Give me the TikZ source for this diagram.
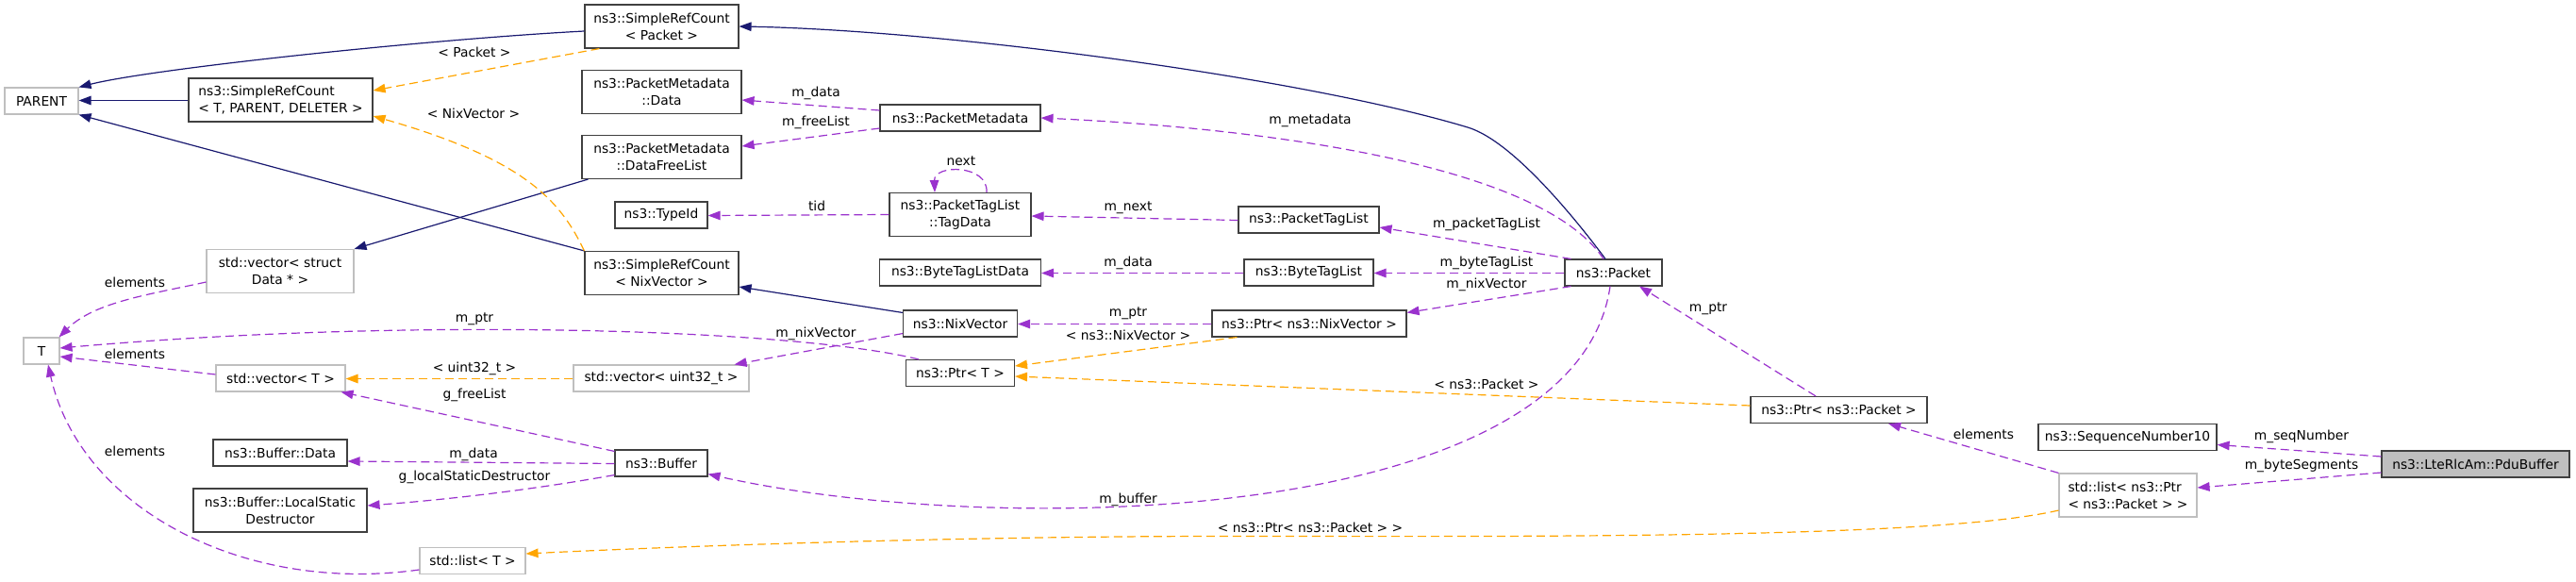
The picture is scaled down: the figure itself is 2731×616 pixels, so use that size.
\documentclass[tikz,border=0pt]{standalone}
\usepackage{fontspec}
\setmainfont{DejaVu Sans}
\usetikzlibrary{arrows.meta}
\definecolor{inhblue}{HTML}{191970}
\definecolor{usepurple}{HTML}{9A32CD}
\definecolor{tmplorange}{HTML}{FFA500}
\definecolor{extgray}{HTML}{BFBFBF}

\begin{document}
\begin{tikzpicture}[x=1pt,y=-1pt,
font=\fontsize{13.8}{18}\selectfont,
>={Triangle[length=13pt,width=9.5pt]},
cls/.style={draw=black!75,line width=1.1pt,fill=white,inner sep=0pt,
  minimum height=28pt,align=center},
ext/.style={cls,draw=extgray},
focus/.style={cls,fill=extgray},
inh/.style={->,draw=inhblue,line width=1.2pt},
use/.style={->,draw=usepurple,line width=1.2pt,dash pattern=on 9pt off 5pt},
tmpl/.style={use,draw=tmplorange},
lbl/.style={inner sep=0pt}]
\useasboundingbox (0,0) rectangle (2731,616);

\node[ext,minimum width=78pt] (parent) at (44,107) {PARENT};
\node[cls,minimum width=195pt,minimum height=46pt,align=left] (srcTPD) at (297.5,106) {ns3::SimpleRefCount\\< T, PARENT, DELETER >};
\node[cls,minimum width=163pt,minimum height=46pt] (srcPkt) at (701.5,28) {ns3::SimpleRefCount\\< Packet >};
\node[cls,minimum width=169pt,minimum height=46pt] (pmData) at (701.5,97.5) {ns3::PacketMetadata\\::Data};
\node[cls,minimum width=169pt,minimum height=46pt] (pmFree) at (701.5,166.5) {ns3::PacketMetadata\\::DataFreeList};
\node[cls,minimum width=98pt] (typeId) at (701,228) {ns3::TypeId};
\node[cls,minimum width=163pt,minimum height=46pt] (srcNix) at (701.5,289.5) {ns3::SimpleRefCount\\< NixVector >};
\node[ext,minimum width=156pt,minimum height=46pt] (vecData) at (297,287.5) {std::vector< struct\\Data * >};
\node[ext,minimum width=38pt] (tnode) at (44,372) {T};
\node[ext,minimum width=137pt] (vecT) at (297.5,401) {std::vector< T >};
\node[cls,minimum width=142pt] (bufData) at (297,480) {ns3::Buffer::Data};
\node[cls,minimum width=184pt,minimum height=46pt] (bufLSD) at (297,541) {ns3::Buffer::LocalStatic\\Destructor};
\node[ext,minimum width=112pt] (listT) at (501,594.5) {std::list< T >};
\node[ext,minimum width=186pt] (vecU32) at (701,401) {std::vector< uint32\_t >};
\node[cls,minimum width=98pt] (buffer) at (701,491) {ns3::Buffer};
\node[cls,minimum width=170pt] (pm) at (1018,125) {ns3::PacketMetadata};
\node[cls,minimum width=150pt,minimum height=46pt] (tagData) at (1018,227.5) {ns3::PacketTagList\\::TagData};
\node[cls,minimum width=171pt] (btlData) at (1018,289) {ns3::ByteTagListData};
\node[cls,minimum width=121pt] (nixVec) at (1018,343) {ns3::NixVector};
\node[cls,minimum width=115pt] (ptrT) at (1018,395.5) {ns3::Ptr< T >};
\node[cls,minimum width=149pt] (ptl) at (1387.5,233) {ns3::PacketTagList};
\node[cls,minimum width=137pt] (btl) at (1387.5,289) {ns3::ByteTagList};
\node[cls,minimum width=206pt] (ptrNix) at (1388,343) {ns3::Ptr< ns3::NixVector >};
\node[cls,minimum width=103pt] (packet) at (1710.5,289) {ns3::Packet};
\node[cls,minimum width=187pt] (ptrPkt) at (1949.5,434.5) {ns3::Ptr< ns3::Packet >};
\node[cls,minimum width=189pt] (seqNum) at (2255.5,463.5) {ns3::SequenceNumber10};
\node[ext,minimum width=146pt,minimum height=46pt,align=left] (listPtr) at (2256,525) {std::list< ns3::Ptr\\< ns3::Packet > >};
\node[focus,minimum width=199pt] (pdu) at (2624.5,492) {ns3::LteRlcAm::PduBuffer};

\draw[inh] ([yshift=-5pt]srcPkt.west) .. controls (450,42) and (160,73) .. (parent.north east);
\draw[inh] ([yshift=-0.5pt]srcTPD.west) -- ([yshift=0.5pt]parent.east);
\draw[inh] (srcNix.north west) -- (parent.south east);
\draw[inh] ([xshift=-8.5pt]packet.north) .. controls (1677,241) and (1606,150) .. (1556,135)
  .. controls (1380,82) and (1000,32) .. (srcPkt.east);
\draw[inh] ([xshift=7pt]pmFree.south west) -- (vecData.north east);
\draw[inh] ([yshift=-3pt]nixVec.north west) -- ([yshift=9pt]srcNix.south east);

\draw[tmpl] ([xshift=16pt]srcPkt.south west) -- ([yshift=10pt]srcTPD.east) node[lbl] at (503,55) {< Packet >};
\draw[tmpl] (srcNix.north west) .. controls (595,215) and (560,170) .. ([yshift=-17pt]srcTPD.east) node[lbl] at (502,120) {< NixVector >};
\draw[tmpl] ([yshift=-0.5pt]vecU32.west) -- ([yshift=-0.5pt]vecT.east) node[lbl] at (503,391) {< uint32\_t >};
\draw[tmpl] ([xshift=27pt]ptrNix.south west) -- ([yshift=7.5pt]ptrT.east) node[lbl] at (1196,355) {< ns3::NixVector >};
\draw[tmpl] ([yshift=4.5pt]ptrPkt.west) -- ([yshift=-3.5pt]ptrT.east) node[lbl] at (1576,407) {< ns3::Packet >};
\draw[tmpl] ([yshift=-16pt]listPtr.west) .. controls (2050,572) and (1600,568.5) .. (1300,568.5)
  .. controls (1000,568.5) and (700,580) .. ([yshift=7.5pt]listT.east) node[lbl] at (1389,559) {< ns3::Ptr< ns3::Packet > >};

\draw[use] ([yshift=-11.5pt]vecData.west) .. controls (160,312) and (100,320) .. ([xshift=-1pt]tnode.north east) node[lbl] at (143,299) {elements};
\draw[use] ([xshift=14pt]ptrT.north west) .. controls (850,350) and (450,335) .. ([yshift=3pt]tnode.east) node[lbl] at (503,338) {m\_ptr};
\draw[use] ([yshift=4pt]vecT.west) -- ([yshift=-6pt]tnode.east) node[lbl] at (143,375) {elements};
\draw[use] ([yshift=-9.5pt]listT.west) .. controls (260,630) and (85,540) .. ([xshift=7pt]tnode.south) node[lbl] at (143,478) {elements};
\draw[use] ([yshift=-2pt]buffer.north west) -- ([xshift=-5pt]vecT.south east) node[lbl] at (503,419) {g\_freeList};
\draw[use] ([yshift=-0.5pt]buffer.west) -- ([yshift=-9pt]bufData.east) node[lbl] at (502,482) {m\_data};
\draw[use] ([yshift=2pt]buffer.south west) .. controls (560,520) and (470,530) .. ([yshift=5pt]bufLSD.east) node[lbl] at (503,506) {g\_localStaticDestructor};
\draw[use] ([yshift=8pt]pm.west) -- ([yshift=-8.5pt]pmData.east) node[lbl] at (865,99) {m\_data};
\draw[use] ([yshift=-11pt]pm.west) -- ([yshift=11.5pt]pmFree.east) node[lbl] at (865,130) {m\_freeList};
\draw[use] ([xshift=28pt]tagData.north) .. controls (1048,174) and (990,174) .. ([xshift=-27pt]tagData.north) node[lbl] at (1019,171) {next};
\draw[use] (tagData.west) -- ([yshift=-0.5pt]typeId.east) node[lbl] at (866,218) {tid};
\draw[use] ([yshift=-0.5pt]ptl.west) -- ([yshift=-1.5pt]tagData.east) node[lbl] at (1196,220) {m\_next};
\draw[use] ([yshift=-0.5pt]btl.west) -- ([yshift=-0.5pt]btlData.east) node[lbl] at (1196,279) {m\_data};
\draw[use] ([yshift=4pt]nixVec.south west) -- ([xshift=-16pt]vecU32.north east) node[lbl] at (865,354) {m\_nixVector};
\draw[use] ([yshift=-0.5pt]ptrNix.west) -- ([yshift=-0.5pt]nixVec.east) node[lbl] at (1196,332) {m\_ptr};
\draw[use] ([xshift=-10.5pt]packet.north) .. controls (1630,170) and (1320,135) .. (pm.east) node[lbl] at (1389,128) {m\_metadata};
\draw[use] ([xshift=7pt]packet.north west) -- ([yshift=-8pt]ptl.east) node[lbl] at (1576,238) {m\_packetTagList};
\draw[use] ([yshift=-0.5pt]packet.west) -- ([yshift=-0.5pt]btl.east) node[lbl] at (1576,279) {m\_byteTagList};
\draw[use] ([xshift=7pt]packet.south west) -- ([yshift=-3pt]ptrNix.north east) node[lbl] at (1576,302) {m\_nixVector};
\draw[use] ([xshift=-3.5pt]packet.south) .. controls (1670,560) and (1050,570) .. ([yshift=3pt]buffer.south east) node[lbl] at (1196,530) {m\_buffer};
\draw[use] ([xshift=-24.5pt]ptrPkt.north) -- ([xshift=27.5pt]packet.south) node[lbl] at (1811,327) {m\_ptr};
\draw[use] (listPtr.north west) -- ([xshift=52.5pt]ptrPkt.south) node[lbl] at (2103,460) {elements};
\draw[use] ([yshift=8pt]pdu.west) -- ([yshift=-8pt]seqNum.east) node[lbl] at (2440,463) {m\_seqNumber};
\draw[use] ([yshift=-9pt]pdu.west) -- ([yshift=8pt]listPtr.east) node[lbl] at (2440,494) {m\_byteSegments};
\end{tikzpicture}
\end{document}
